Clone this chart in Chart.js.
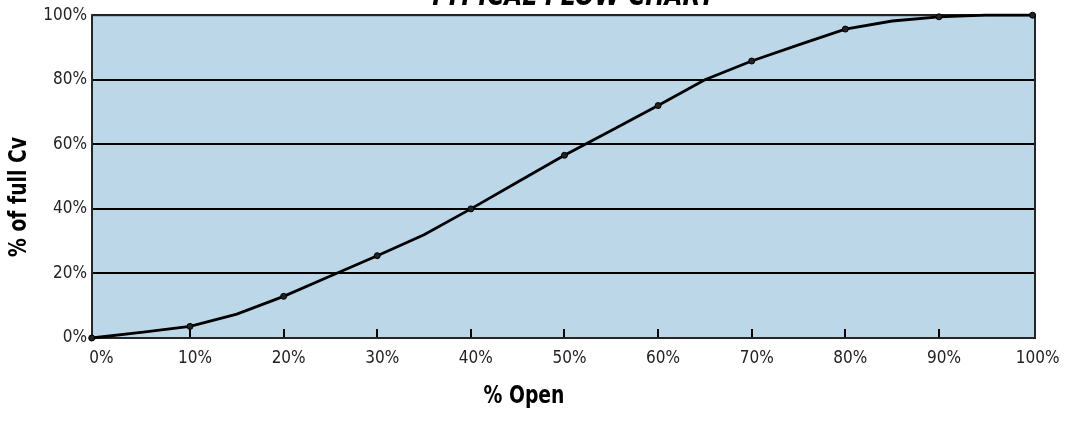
<!DOCTYPE html>
<html>
<head>
<meta charset="utf-8">
<script src="https://cdn.jsdelivr.net/npm/chart.js@4/dist/chart.umd.min.js"></script>
<style>
html,body{margin:0;padding:0;background:#fff;}
#wrap{width:1068px;height:421px;position:relative;}
</style>
</head>
<body>
<div id="wrap"><canvas id="c" width="1068" height="421"></canvas></div>
<script>
// ---- data ----
const chartTitle = "TYPICAL FLOW CHART";
const xTitle = "% Open";
const yTitle = "% of full Cv";
const openPct = [-0.5, 5, 10, 15, 20, 25, 30, 35, 40, 45, 50, 55, 60, 65, 70, 75, 80, 85, 90, 95, 100];
const cvPct   = [0, 1.8, 3.6, 7.4, 12.9, 19.2, 25.5, 32, 40, 48.3, 56.6, 64.3, 72, 80, 85.8, 90.8, 95.7, 98.2, 99.5, 100, 100];
const markerShown = [1,0,1,0,1,0,1,0,1,0,1,0,1,0,1,0,1,0,1,0,1];
const xTicks = [0, 10, 20, 30, 40, 50, 60, 70, 80, 90, 100];
const yTicks = [0, 20, 40, 60, 80, 100];

const FONT = "'DejaVu Sans Condensed', 'Liberation Sans Narrow', sans-serif";
const PLOT_BG = '#bcd8e8';

function drawSqueezed(ctx, text, x, y, sx, rot) {
  ctx.save();
  ctx.translate(x, y);
  if (rot) ctx.rotate(rot);
  ctx.scale(sx, 1);
  ctx.fillText(text, 0, 0);
  ctx.restore();
}

const decor = {
  id: 'decor',
  beforeDraw(chart) {
    const {ctx, chartArea: a} = chart;
    ctx.save();
    ctx.fillStyle = PLOT_BG;
    ctx.fillRect(a.left, a.top, a.right - a.left, a.bottom - a.top);
    ctx.restore();
  },
  beforeDatasetsDraw(chart) {
    const {ctx, chartArea: a, scales} = chart;
    ctx.save();
    ctx.strokeStyle = '#000';
    ctx.lineWidth = 2;
    xTicks.forEach(v => {
      if (v <= 0 || v >= 100) return;
      const px = Math.round(scales.x.getPixelForValue(v));
      ctx.beginPath();
      ctx.moveTo(px, a.bottom);
      ctx.lineTo(px, a.bottom - 9);
      ctx.stroke();
    });
    ctx.strokeStyle = '#262626';
    ctx.lineWidth = 2;
    ctx.strokeRect(a.left, a.top, a.right - a.left, a.bottom - a.top);
    ctx.restore();
  },
  afterDraw(chart) {
    const {ctx} = chart;
    ctx.save();
    ctx.fillStyle = '#000';
    ctx.textAlign = 'center';
    ctx.textBaseline = 'alphabetic';
    ctx.font = "italic bold 30px " + FONT;
    drawSqueezed(ctx, chartTitle, 572, 5, 0.86, 0);
    ctx.font = "bold 24px " + FONT;
    ctx.textBaseline = 'middle';
    drawSqueezed(ctx, xTitle, 524, 397, 0.87, 0);
    drawSqueezed(ctx, yTitle, 20, 197, 0.87, -Math.PI / 2);
    ctx.restore();
  }
};

new Chart(document.getElementById('c'), {
  type: 'line',
  data: {
    datasets: [{
      data: openPct.map((x, i) => ({x, y: cvPct[i]})),
      borderColor: '#000',
      borderWidth: 2.8,
      tension: 0,
      clip: false,
      pointRadius: ctx => markerShown[ctx.dataIndex] ? 3 : 0,
      pointBackgroundColor: '#222',
      pointBorderColor: '#000',
      pointBorderWidth: 1
    }]
  },
  options: {
    responsive: false,
    animation: false,
    events: [],
    layout: {padding: {left: 0, top: 14, right: 33, bottom: 0}},
    plugins: {legend: {display: false}, tooltip: {enabled: false}, title: {display: false}},
    scales: {
      x: {
        type: 'linear',
        min: -0.47,
        max: 100.26,
        afterFit: s => { s.height = 83; },
        afterBuildTicks: s => { s.ticks = xTicks.map(v => ({value: v})); },
        grid: {display: false, drawTicks: false},
        border: {display: false},
        ticks: {
          padding: 10,
          labelOffset: 5,
          color: '#222',
          font: {family: FONT, size: 17},
          callback: v => v + '%'
        }
      },
      y: {
        min: 0,
        max: 100,
        afterFit: s => { s.width = 92; },
        afterBuildTicks: s => { s.ticks = yTicks.map(v => ({value: v})); },
        grid: {color: '#000', lineWidth: 2, drawTicks: false},
        border: {display: false},
        ticks: {
          padding: 5,
          color: '#222',
          font: {family: FONT, size: 17},
          callback: v => v + '%'
        }
      }
    }
  },
  plugins: [decor]
});
</script>
</body>
</html>
